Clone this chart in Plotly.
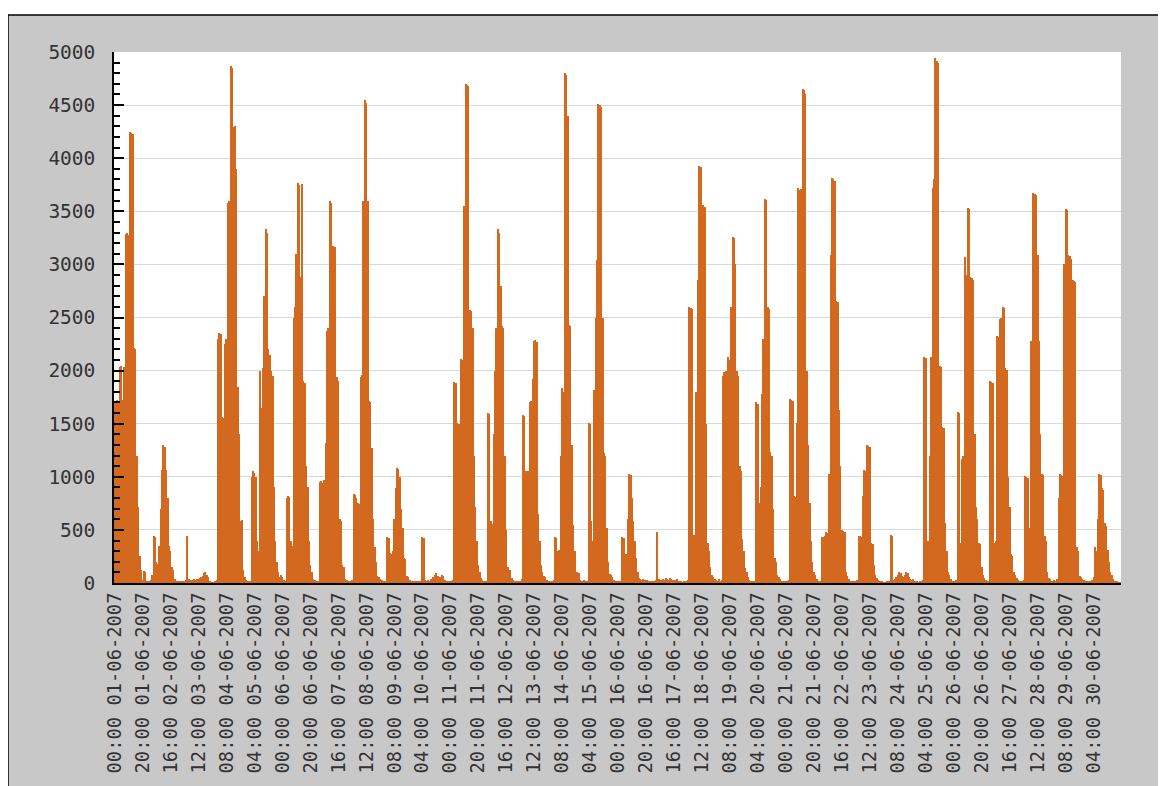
import datetime as dt
import plotly.graph_objects as go

# Hourly values for June 2007, one list per day (24 hours each)
day01 = [1700, 1710, 1720, 1700, 2030, 2040, 1720, 2030, 3290, 3300, 3280, 4250, 4240, 4230, 2210, 2200, 1200, 720, 250, 120, 30, 110, 100, 20]
day02 = [20, 20, 30, 80, 440, 430, 200, 180, 350, 700, 1060, 1300, 1280, 1060, 800, 350, 300, 150, 120, 40, 20, 15, 10, 10]
day03 = [10, 10, 20, 30, 440, 40, 20, 30, 25, 40, 30, 35, 40, 50, 60, 70, 90, 100, 80, 60, 10, 5, 5, 5]
day04 = [10, 30, 2300, 2350, 2340, 1560, 1550, 2250, 2300, 3580, 3600, 4870, 4850, 4290, 4300, 3900, 1850, 1400, 580, 590, 120, 60, 30, 20]
day05 = [10, 20, 1000, 1050, 1040, 1000, 400, 300, 2000, 1650, 2020, 2700, 3330, 3300, 2200, 2150, 2000, 1950, 900, 400, 200, 100, 60, 80]
day06 = [60, 30, 20, 800, 820, 810, 400, 350, 2500, 2600, 3100, 3770, 3750, 2880, 3760, 1900, 1880, 1100, 900, 400, 170, 100, 40, 30]
day07 = [10, 10, 20, 950, 960, 940, 970, 1320, 2370, 2400, 3600, 3580, 3170, 3150, 3160, 1940, 1900, 600, 580, 170, 150, 40, 30, 20]
day08 = [20, 10, 30, 840, 830, 800, 750, 740, 1940, 1960, 3600, 4545, 4520, 3600, 1715, 1700, 1270, 600, 340, 200, 70, 60, 40, 30]
day09 = [20, 10, 20, 430, 420, 280, 270, 300, 600, 890, 1080, 1070, 1000, 700, 515, 240, 230, 70, 60, 30, 20, 10, 10, 10]
day10 = [10, 5, 10, 20, 430, 420, 30, 20, 30, 20, 40, 30, 60, 80, 90, 70, 40, 60, 80, 70, 30, 20, 10, 10]
day11 = [20, 10, 30, 1890, 1880, 1510, 1500, 1480, 2110, 2100, 3550, 4700, 4690, 4680, 2570, 2560, 2400, 1200, 720, 400, 170, 100, 50, 30]
day12 = [20, 10, 20, 1600, 1590, 580, 560, 1400, 2000, 2400, 3330, 3300, 2800, 2420, 2400, 1200, 500, 150, 100, 120, 50, 30, 20, 10]
day13 = [20, 10, 20, 40, 1580, 1570, 1050, 1040, 1050, 1700, 1715, 1920, 2280, 2290, 2270, 650, 400, 170, 100, 70, 60, 30, 20, 10]
day14 = [20, 10, 30, 430, 420, 300, 310, 1200, 1835, 1800, 4800, 4780, 4400, 2430, 2420, 1300, 550, 300, 100, 100, 90, 30, 20, 10]
day15 = [30, 10, 20, 1510, 1500, 580, 400, 1820, 2500, 3040, 4510, 4500, 4480, 2500, 1220, 1200, 515, 200, 85, 80, 60, 30, 20, 10]
day16 = [20, 10, 10, 430, 420, 270, 275, 600, 1030, 1020, 800, 580, 400, 240, 100, 50, 40, 30, 40, 30, 20, 30, 20, 10]
day17 = [10, 10, 20, 30, 480, 40, 20, 30, 40, 30, 50, 40, 30, 50, 40, 30, 20, 30, 40, 20, 10, 10, 5, 10]
day18 = [20, 10, 30, 2600, 2590, 2580, 450, 400, 1800, 2850, 3930, 3920, 3550, 3560, 3540, 1500, 380, 300, 150, 80, 60, 40, 30, 20]
day19 = [40, 20, 30, 1950, 1990, 2000, 1980, 2130, 2100, 2600, 3260, 3250, 3000, 2000, 1950, 1100, 1050, 410, 300, 140, 100, 60, 30, 20]
day20 = [20, 10, 10, 1700, 1690, 750, 900, 1780, 2300, 3620, 3610, 2600, 2580, 1230, 1200, 700, 240, 200, 80, 60, 40, 20, 10, 10]
day21 = [20, 10, 30, 1730, 1720, 1710, 820, 810, 1510, 3720, 3700, 3710, 4650, 4640, 4600, 2000, 1300, 750, 400, 200, 100, 80, 40, 20]
day22 = [10, 10, 430, 430, 440, 480, 470, 1030, 3090, 3810, 3800, 3790, 2660, 2650, 1630, 1100, 500, 490, 480, 100, 70, 40, 20, 10]
day23 = [10, 10, 20, 30, 445, 440, 430, 820, 1060, 1050, 1300, 1290, 1280, 380, 370, 170, 80, 50, 30, 20, 10, 10, 5, 5]
day24 = [10, 10, 20, 450, 440, 30, 40, 60, 80, 100, 90, 70, 60, 80, 100, 90, 60, 40, 30, 40, 20, 10, 10, 5]
day25 = [20, 10, 30, 2130, 2120, 380, 400, 1200, 2130, 3720, 3800, 4940, 4920, 4900, 2040, 2030, 1470, 1460, 565, 300, 100, 80, 40, 20]
day26 = [20, 10, 30, 1610, 1600, 380, 1170, 1200, 3070, 2900, 3530, 3520, 2880, 2870, 2850, 1400, 720, 600, 380, 370, 150, 80, 50, 30]
day27 = [20, 10, 1900, 1890, 1880, 380, 400, 2330, 2320, 2490, 2500, 2600, 2590, 2020, 2010, 1000, 720, 275, 250, 100, 80, 50, 30, 20]
day28 = [20, 10, 30, 1010, 1000, 990, 515, 2280, 2270, 3670, 3660, 3650, 3090, 2280, 1400, 1030, 1020, 445, 400, 100, 50, 40, 20, 10]
day29 = [30, 10, 40, 800, 1030, 1020, 1010, 3000, 3520, 3510, 3090, 3080, 3050, 2850, 2840, 2830, 340, 300, 70, 60, 40, 30, 20, 10]
day30 = [10, 10, 20, 30, 60, 340, 300, 600, 1030, 1020, 890, 880, 565, 540, 310, 200, 100, 80, 40, 20, 10, 10, 5, 5]

days = [day01, day02, day03, day04, day05, day06, day07, day08, day09, day10,
        day11, day12, day13, day14, day15, day16, day17, day18, day19, day20,
        day21, day22, day23, day24, day25, day26, day27, day28, day29, day30]
values = [v for d in days for v in d]

start = dt.datetime(2007, 6, 1, 0, 0)
categories = [(start + dt.timedelta(hours=i)).strftime("%H:%M %d-%m-%Y") for i in range(len(values))]
tick_labels = categories[::20]

# the page body has an 8px margin, so the figure is sized/offset to compensate
OFF = 8
W, H = 1166 - OFF, 786 - OFF
L, T = 114 - OFF, 52 - OFF
R = W - (1121 - OFF)
B = H - (583 - OFF)
pw, ph = W - L - R, H - T - B

def px(x):
    return (x - OFF - L) / pw

def py(y):
    return (H - B - (y - OFF)) / ph

fig = go.Figure()
fig.add_trace(go.Bar(
    x=categories, y=values,
    marker=dict(color="#d2691e", line=dict(width=0)),
))

fig.update_layout(
    width=W, height=H,
    margin=dict(l=L, r=R, t=T, b=B, pad=0, autoexpand=False),
    paper_bgcolor="white",
    plot_bgcolor="white",
    bargap=0,
    showlegend=False,
    font=dict(family="DejaVu Sans Mono", size=19, color="#333333"),
    shapes=[
        dict(type="rect", xref="paper", yref="paper", layer="below",
             x0=px(8), x1=px(1166 + 5), y0=py(786 + 5), y1=py(15),
             fillcolor="#c8c8c8", line=dict(color="black", width=1.5)),
        dict(type="rect", xref="paper", yref="paper", layer="below",
             x0=0, x1=1, y0=0, y1=1, fillcolor="white", line=dict(width=0)),
    ],
)

fig.update_xaxes(
    type="category",
    range=[-0.5, len(values) - 0.5],
    tickmode="array", tickvals=tick_labels, ticktext=tick_labels,
    tickangle=-90, automargin=False,
    tickfont=dict(family="DejaVu Sans Mono", size=18.8, color="#333333"),
    showgrid=False, showline=True, linecolor="black", linewidth=2,
    ticks="", zeroline=False,
)
fig.update_yaxes(
    range=[0, 5000], dtick=500, tick0=0, automargin=False,
    showgrid=True, gridcolor="#d6dadf", gridwidth=1,
    showline=True, linecolor="black", linewidth=1.5,
    ticks="inside", ticklen=10, tickcolor="black", tickwidth=1.5,
    minor=dict(ticks="inside", ticklen=6, dtick=100, tickcolor="black", tickwidth=1.5, showgrid=False),
    tickfont=dict(family="DejaVu Sans Mono", size=19.5, color="#333333"),
    ticklabelstandoff=13, zeroline=False,
)

fig.write_html("out.html")
